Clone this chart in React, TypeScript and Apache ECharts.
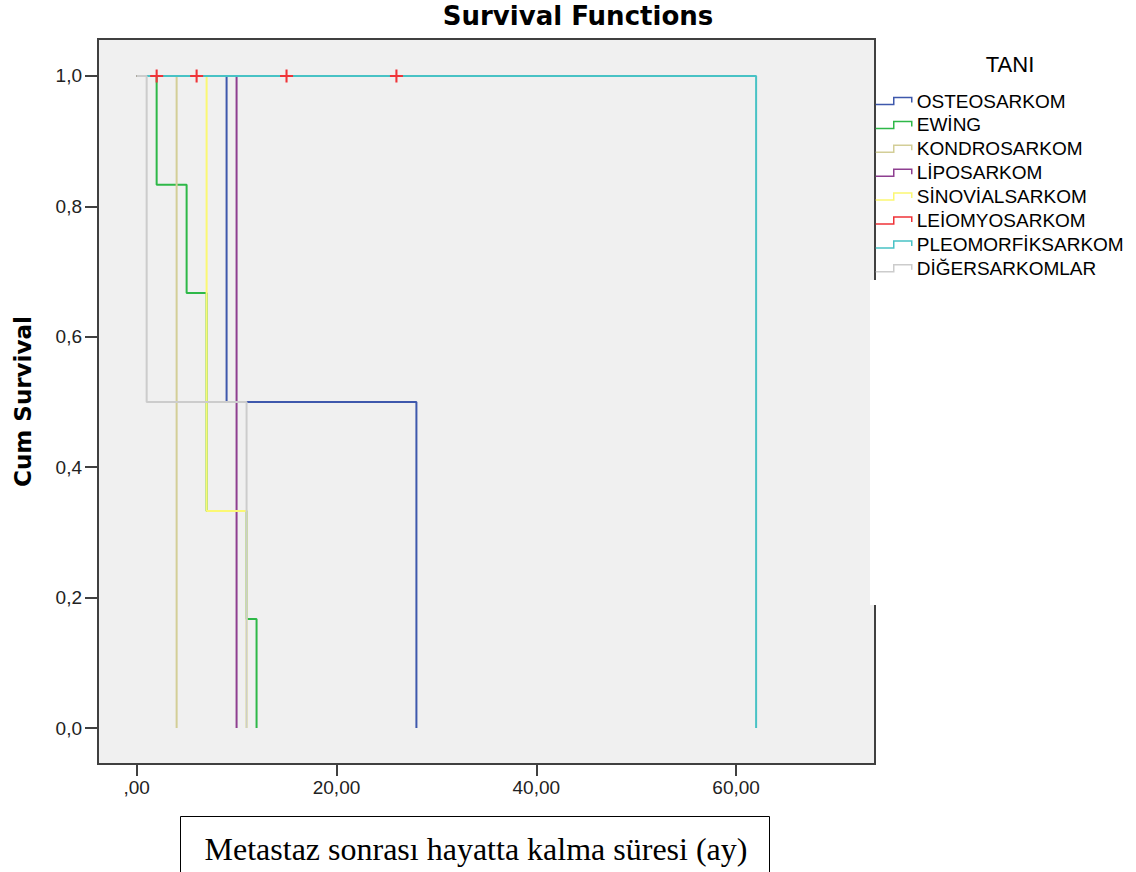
import React, { useEffect, useRef } from "react";
import * as echarts from "echarts";

// ---- data ----
const groupNames = [
  "OSTEOSARKOM",
  "EWİNG",
  "KONDROSARKOM",
  "LİPOSARKOM",
  "SİNOVİALSARKOM",
  "LEİOMYOSARKOM",
  "PLEOMORFİKSARKOM",
  "DİĞERSARKOMLAR",
];
const groupColors = [
  "#3e58ac",
  "#2eb848",
  "#d3ce97",
  "#8e3f90",
  "#fbf873",
  "#ef3338",
  "#48c2c5",
  "#cccccc",
];

const osteoTimes = [0, 9, 28];
const osteoSurv = [1, 0.5, 0];
const ewingTimes = [0, 2, 5, 7, 11, 12];
const ewingSurv = [1, 0.833, 0.667, 0.333, 0.167, 0];
const kondroTimes = [0, 4];
const kondroSurv = [1, 0];
const lipoTimes = [0, 10];
const lipoSurv = [1, 0];
const sinovTimes = [0, 7, 11];
const sinovSurv = [1, 0.333, 0];
const leioTimes = [0, 26];
const leioSurv = [1, 1];
const leioCensorTimes = [2, 6, 15, 26];
const leioCensorSurv = [1, 1, 1, 1];
const pleoTimes = [0, 62];
const pleoSurv = [1, 0];
const digerTimes = [0, 1, 11];
const digerSurv = [1, 0.5, 0];

const seriesTimes = [osteoTimes, ewingTimes, kondroTimes, lipoTimes, sinovTimes, leioTimes, pleoTimes, digerTimes];
const seriesSurv = [osteoSurv, ewingSurv, kondroSurv, lipoSurv, sinovSurv, leioSurv, pleoSurv, digerSurv];

const xTickValues = [0, 20, 40, 60];
const xTickLabels = [",00", "20,00", "40,00", "60,00"];
const yTickValues = [0, 0.2, 0.4, 0.6, 0.8, 1.0];
const yTickLabels = ["0,0", "0,2", "0,4", "0,6", "0,8", "1,0"];

const titleText = "Survival Functions";
const yTitle = "Cum Survival";
const legendTitle = "TANI";
const xNoteText = "Metastaz sonrası hayatta kalma süresi (ay)";

function lookup(values: number[], labels: string[], v: number) {
  for (let i = 0; i < values.length; i++) {
    if (Math.abs(values[i] - v) < 1e-6) return labels[i];
  }
  return "";
}

const AXIS_COLOR = "#404040";
const SANS = "'Liberation Sans', Arial, sans-serif";

export default function App() {
  const ref = useRef<HTMLDivElement>(null);

  useEffect(() => {
    if (!ref.current) return;
    const chart = echarts.init(ref.current, undefined, { renderer: "svg" });

    const lineSeries = groupNames.map((name, i) => ({
      name,
      type: "line",
      step: "end",
      showSymbol: false,
      symbol: "none",
      data: seriesTimes[i].map((t, k) => [t, seriesSurv[i][k]]),
      lineStyle: { color: groupColors[i], width: 2 },
      itemStyle: { color: groupColors[i] },
      z: 2,
      silent: true,
    }));

    const censorSeries = {
      name: "Censored",
      type: "scatter",
      symbol: "path://M-1,-0.16H-0.16V-1H0.16V-0.16H1V0.16H0.16V1H-0.16V0.16H-1Z",
      symbolSize: 13,
      data: leioCensorTimes.map((t, k) => [t, leioCensorSurv[k]]),
      itemStyle: { color: groupColors[5], opacity: 1 },
      z: 3,
      silent: true,
    };

    const option = {
      animation: false,
      backgroundColor: "#ffffff",
      grid: {
        left: 98,
        top: 39,
        right: 261,
        bottom: 108,
        show: true,
        backgroundColor: "#f0f0f0",
        borderColor: AXIS_COLOR,
        borderWidth: 2,
        containLabel: false,
      },
      xAxis: {
        type: "value",
        min: -3.87,
        max: 73.9,
        axisLine: { show: true, onZero: false, lineStyle: { color: AXIS_COLOR, width: 2 } },
        axisTick: {
          show: true,
          length: 12,
          lineStyle: { color: AXIS_COLOR, width: 2 },
          customValues: xTickValues,
        },
        axisLabel: {
          customValues: xTickValues,
          formatter: (v: number) => lookup(xTickValues, xTickLabels, v),
          margin: 14,
          fontSize: 19,
          fontFamily: SANS,
          color: "#222",
        },
        splitLine: { show: false },
      },
      yAxis: {
        type: "value",
        min: -0.0552,
        max: 1.0567,
        name: yTitle,
        nameLocation: "middle",
        nameRotate: 90,
        nameGap: 64,
        nameTextStyle: {
          fontFamily: "'DejaVu Sans', sans-serif",
          fontWeight: "bold",
          fontSize: 23,
          color: "#000",
        },
        axisLine: { show: true, onZero: false, lineStyle: { color: AXIS_COLOR, width: 2 } },
        axisTick: {
          show: true,
          length: 13,
          lineStyle: { color: AXIS_COLOR, width: 2 },
          customValues: yTickValues,
        },
        axisLabel: {
          customValues: yTickValues,
          formatter: (v: number) => lookup(yTickValues, yTickLabels, v),
          margin: 16,
          fontSize: 19,
          fontFamily: SANS,
          color: "#222",
        },
        splitLine: { show: false },
      },
      legend: {
        orient: "vertical",
        left: 875,
        top: 91.5,
        padding: 0,
        itemWidth: 36,
        itemHeight: 7,
        itemGap: 4.9,
        icon: "path://M0,7H18V0H36V5",
        selectedMode: false,
        textStyle: { fontFamily: SANS, fontSize: 19, color: "#000", lineHeight: 19 },
        data: groupNames.map((name, i) => ({
          name,
          itemStyle: { color: "rgba(0,0,0,0)", borderColor: groupColors[i], borderWidth: 1.5 },
        })),
      },
      graphic: [
        {
          type: "text",
          x: 578,
          y: 16,
          z: 50,
          style: {
            text: titleText,
            font: "bold 26px 'DejaVu Sans', sans-serif",
            fill: "#000",
            align: "center",
            verticalAlign: "middle",
          },
        },
        {
          type: "text",
          x: 1010,
          y: 64,
          z: 50,
          style: {
            text: legendTitle,
            font: "22px 'Liberation Sans', Arial, sans-serif",
            fill: "#000",
            align: "center",
            verticalAlign: "middle",
          },
        },
        {
          type: "rect",
          z: 100,
          shape: { x: 870, y: 280, width: 266, height: 325 },
          style: { fill: "#ffffff", stroke: "none" },
        },
        {
          type: "rect",
          z: 100,
          shape: { x: 180.5, y: 816.5, width: 589, height: 100 },
          style: { fill: "#ffffff", stroke: "#000", lineWidth: 1 },
        },
        {
          type: "text",
          x: 476,
          y: 849,
          z: 101,
          style: {
            text: xNoteText,
            font: "32px 'Liberation Serif', 'Times New Roman', serif",
            fill: "#000",
            align: "center",
            verticalAlign: "middle",
          },
        },
      ],
      series: [...lineSeries, censorSeries],
    };

    chart.setOption(option as any);
    return () => chart.dispose();
  }, []);

  return (
    <div
      ref={ref}
      style={{ position: "fixed", left: 0, top: 0, width: 1136, height: 872 }}
    />
  );
}
